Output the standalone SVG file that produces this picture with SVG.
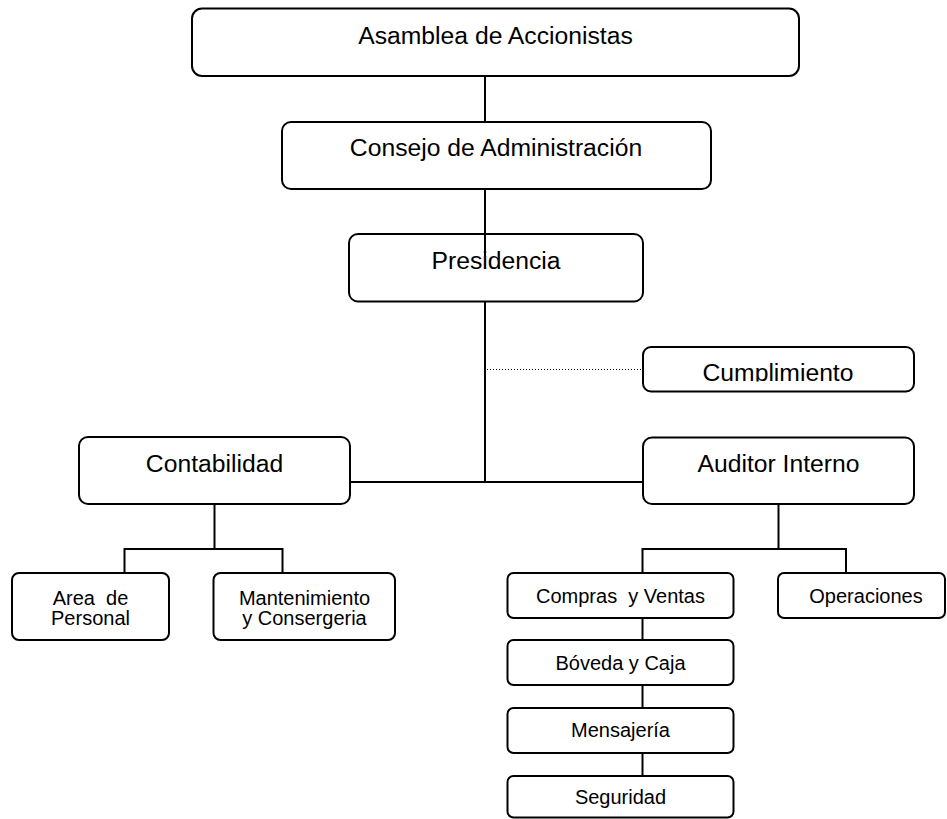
<svg xmlns="http://www.w3.org/2000/svg" width="947" height="819" viewBox="0 0 947 819">
<style>
.box{fill:#fff;stroke:#000;stroke-width:2}
.ln{fill:none;stroke:#000;stroke-width:2}
.dot{fill:none;stroke:#000;stroke-width:1;stroke-dasharray:1 2}
.big{font-family:"Liberation Sans",Arial,sans-serif;font-size:24.7px;fill:#000;text-anchor:middle}
.sm{font-family:"Liberation Sans",Arial,sans-serif;font-size:20px;fill:#000;text-anchor:middle;white-space:pre}
</style>
<defs>
<clipPath id="clipCump"><rect x="643" y="347" width="271" height="34.5"/></clipPath>
</defs>
<rect width="947" height="819" fill="#fff"/>
<g id="connectors">
<line class="ln" x1="485" y1="76" x2="485" y2="122"/>
<line class="ln" x1="485" y1="189" x2="485" y2="234"/>
<line class="ln" x1="485" y1="302" x2="485" y2="482"/>
<line class="ln" x1="350" y1="482" x2="643" y2="482"/>
<line class="dot" x1="487" y1="369.5" x2="643" y2="369.5"/>
<line class="ln" x1="214.5" y1="504" x2="214.5" y2="549"/>
<polyline class="ln" points="124.5,573 124.5,549 282.5,549 282.5,573"/>
<line class="ln" x1="778.5" y1="504" x2="778.5" y2="549"/>
<polyline class="ln" points="642.5,573 642.5,549 846,549 846,573"/>
<line class="ln" x1="642.5" y1="618" x2="642.5" y2="640"/>
<line class="ln" x1="642.5" y1="685" x2="642.5" y2="708"/>
<line class="ln" x1="642.5" y1="753" x2="642.5" y2="776"/>
</g>
<g id="asamblea">
<rect class="box" x="192" y="8.5" width="607" height="67.5" rx="10"/>
<text class="big" x="495.5" y="43.5">Asamblea de Accionistas</text>
</g>
<g id="consejo">
<rect class="box" x="282" y="122" width="429" height="67" rx="9"/>
<text class="big" x="496" y="156">Consejo de Administración</text>
</g>
<g id="presidencia">
<rect class="box" x="349" y="234" width="294" height="67.5" rx="9"/>
<line class="ln" x1="485" y1="233" x2="485" y2="256"/>
<text class="big" x="496" y="268.5">Presidencia</text>
</g>
<g id="cumplimiento">
<rect class="box" x="643" y="347" width="271" height="44.5" rx="8"/>
<text class="big" x="778" y="381" clip-path="url(#clipCump)">Cumplimiento</text>
</g>
<g id="contabilidad">
<rect class="box" x="79" y="437" width="271" height="67" rx="9"/>
<text class="big" x="214.5" y="472">Contabilidad</text>
</g>
<g id="auditor">
<rect class="box" x="643" y="437.5" width="271" height="66.5" rx="9"/>
<text class="big" x="778.5" y="472">Auditor Interno</text>
</g>
<g id="area-personal">
<rect class="box" x="12" y="573" width="157" height="67" rx="7"/>
<text class="sm" x="90.5" y="604.5">Area  de</text>
<text class="sm" x="90.5" y="624.5">Personal</text>
</g>
<g id="mantenimiento">
<rect class="box" x="213.5" y="573" width="181.5" height="67" rx="7"/>
<text class="sm" x="304.5" y="604.5">Mantenimiento</text>
<text class="sm" x="304.5" y="624.5">y Consergeria</text>
</g>
<g id="compras">
<rect class="box" x="507.5" y="573" width="226" height="45" rx="6"/>
<text class="sm" x="620.5" y="603">Compras  y Ventas</text>
</g>
<g id="operaciones">
<rect class="box" x="778" y="573" width="167" height="45" rx="6"/>
<text class="sm" x="866" y="603">Operaciones</text>
</g>
<g id="boveda">
<rect class="box" x="507.5" y="640" width="226" height="45" rx="6"/>
<text class="sm" x="620.5" y="669.5">Bóveda y Caja</text>
</g>
<g id="mensajeria">
<rect class="box" x="507.5" y="708" width="226" height="45" rx="6"/>
<text class="sm" x="620.5" y="737">Mensajería</text>
</g>
<g id="seguridad">
<rect class="box" x="507.5" y="776" width="226" height="41.5" rx="6"/>
<text class="sm" x="620.5" y="804">Seguridad</text>
</g>
</svg>
